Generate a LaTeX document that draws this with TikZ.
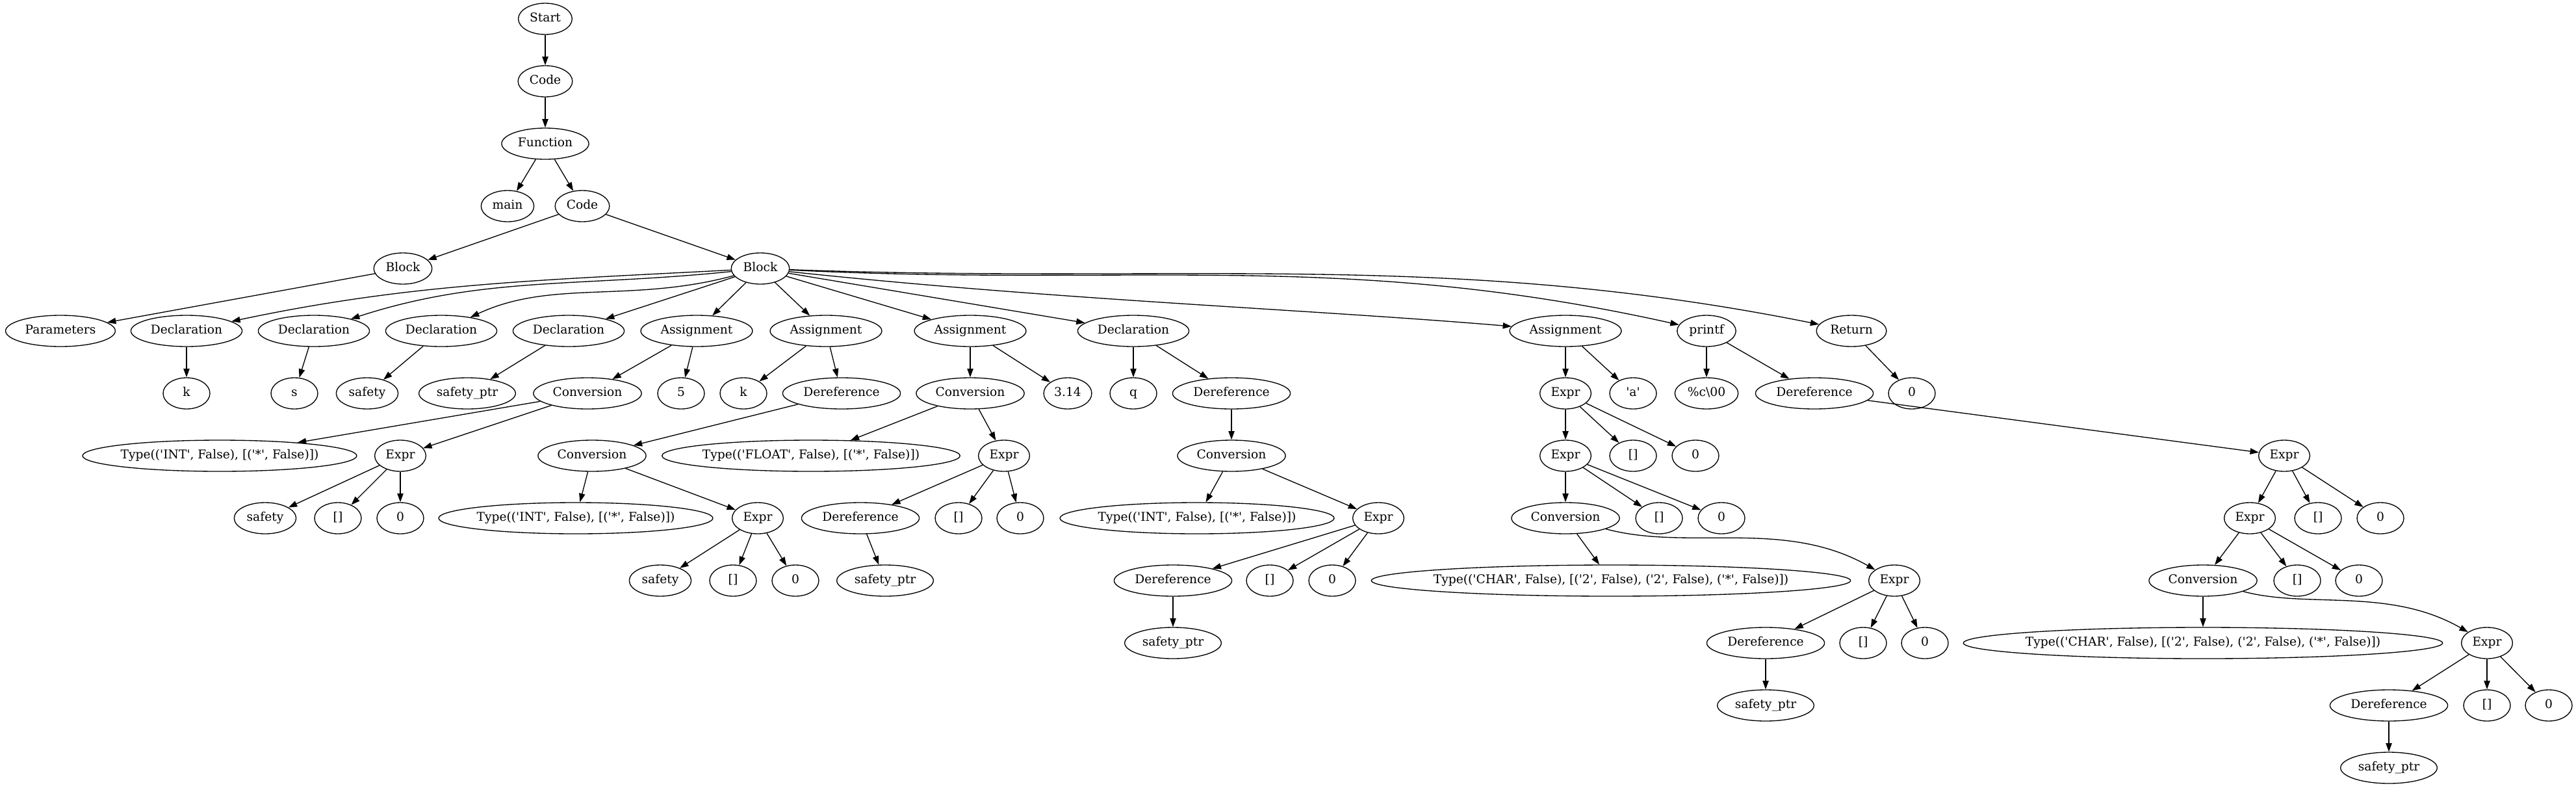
\documentclass[tikz,border=0pt]{standalone}
\usepackage{fontspec}
\setmainfont{DejaVu Serif}[Ligatures=TeXOff]
\usetikzlibrary{arrows.meta,shapes.geometric}
\tikzset{
  ast/.style={draw,ellipse,line width=1pt,minimum width=54pt,minimum height=36pt,inner xsep=4pt,inner ysep=2pt,font=\fontsize{14}{16}\selectfont,text height=10pt,text depth=3pt},
  typebox/.style={inner xsep=-200pt,minimum width=#1},
  link/.style={line width=1pt,-{Triangle[length=10pt,width=7pt]}}
}

\begin{document}
\begin{tikzpicture}[x=0.75pt,y=72pt]
\useasboundingbox (0,0.3021) rectangle (3964,-12.3125);
% rank 0-4
\node[ast] (start) at (839,0) {Start};
\node[ast] (code) at (839,-1) {Code};
\node[ast] (func) at (839,-2) {Function};
\node[ast] (fname) at (781,-3) {main};
\node[ast] (body) at (896,-3) {Code};
\node[ast] (parblk) at (620,-4) {Block};
\node[ast] (blk) at (1170,-4) {Block};
% rank 5
\node[ast] (params) at (93,-5) {Parameters};
\node[ast] (dk) at (287,-5) {Declaration};
\node[ast] (ds) at (483,-5) {Declaration};
\node[ast] (dsafe) at (679,-5) {Declaration};
\node[ast] (dptr) at (875,-5) {Declaration};
\node[ast] (asA) at (1072,-5) {Assignment};
\node[ast] (asB) at (1271,-5) {Assignment};
\node[ast] (asC) at (1493,-5) {Assignment};
\node[ast] (dq) at (1744,-5) {Declaration};
\node[ast] (asD) at (2409,-5) {Assignment};
\node[ast] (pf) at (2626,-5) {printf};
\node[ast] (ret) at (2849,-5) {Return};
% rank 6
\node[ast] (k) at (287,-6) {k};
\node[ast] (s) at (453,-6) {s};
\node[ast] (safe) at (565,-6) {safety};
\node[ast] (ptr) at (719,-6) {safety\_ptr};
\node[ast] (cvA) at (904,-6) {Conversion};
\node[ast] (five) at (1048,-6) {5};
\node[ast] (kB) at (1144,-6) {k};
\node[ast] (drB) at (1295,-6) {Dereference};
\node[ast] (cvC) at (1493,-6) {Conversion};
\node[ast] (flt) at (1643,-6) {3.14};
\node[ast] (q) at (1744,-6) {q};
\node[ast] (drQ) at (1895,-6) {Dereference};
\node[ast] (exD) at (2409,-6) {Expr};
\node[ast] (chr) at (2513,-6) {'a'};
\node[ast] (fmt) at (2626,-6) {\%c\textbackslash 00};
\node[ast] (drP) at (2792,-6) {Dereference};
\node[ast] (retv) at (2942,-6) {0};
% rank 7
\node[ast,typebox=316.5pt] (tyA) at (338,-7) {Type(('INT', False), [('*', False)])};
\node[ast] (exA) at (616,-7) {Expr};
\node[ast] (cvB) at (911,-7) {Conversion};
\node[ast,typebox=344pt] (tyC) at (1248,-7) {Type(('FLOAT', False), [('*', False)])};
\node[ast] (exC) at (1545,-7) {Expr};
\node[ast] (cvQ) at (1895,-7) {Conversion};
\node[ast] (exDa) at (2409,-7) {Expr};
\node[ast] (brD) at (2513,-7) {[]};
\node[ast] (zD) at (2609,-7) {0};
\node[ast] (exP) at (3515,-7) {Expr};
% rank 8
\node[ast] (sfA) at (408,-8) {safety};
\node[ast] (brA) at (520,-8) {[]};
\node[ast] (zA) at (616,-8) {0};
\node[ast,typebox=316.5pt] (tyB) at (886,-8) {Type(('INT', False), [('*', False)])};
\node[ast] (exB) at (1166,-8) {Expr};
\node[ast] (drC) at (1324,-8) {Dereference};
\node[ast] (brC) at (1475,-8) {[]};
\node[ast] (zC) at (1570,-8) {0};
\node[ast,typebox=316.5pt] (tyQ) at (1842,-8) {Type(('INT', False), [('*', False)])};
\node[ast] (exQ) at (2121,-8) {Expr};
\node[ast] (cvD) at (2409,-8) {Conversion};
\node[ast] (brDa) at (2553,-8) {[]};
\node[ast] (zDa) at (2649,-8) {0};
\node[ast] (exPa) at (3462,-8) {Expr};
\node[ast] (brP) at (3567,-8) {[]};
\node[ast] (zP) at (3663,-8) {0};
% rank 9
\node[ast] (sfB) at (1016,-9) {safety};
\node[ast] (brB) at (1128,-9) {[]};
\node[ast] (zB) at (1224,-9) {0};
\node[ast] (ptrC) at (1362,-9) {safety\_ptr};
\node[ast] (drQa) at (1805,-9) {Dereference};
\node[ast] (brQ) at (1954,-9) {[]};
\node[ast] (zQ) at (2050,-9) {0};
\node[ast,typebox=553pt] (tyD) at (2479,-9) {Type(('CHAR', False), [('2', False), ('2', False), ('*', False)])};
\node[ast] (exDb) at (2915,-9) {Expr};
\node[ast] (cvP) at (3390,-9) {Conversion};
\node[ast] (brPa) at (3535,-9) {[]};
\node[ast] (zPa) at (3630,-9) {0};
% rank 10-12
\node[ast] (ptrQ) at (1805,-10) {safety\_ptr};
\node[ast] (drD) at (2717,-10) {Dereference};
\node[ast] (brDb) at (2867,-10) {[]};
\node[ast] (zDb) at (2962,-10) {0};
\node[ast,typebox=553pt] (tyP) at (3390,-10) {Type(('CHAR', False), [('2', False), ('2', False), ('*', False)])};
\node[ast] (exPb) at (3827,-10) {Expr};
\node[ast] (ptrD) at (2717,-11) {safety\_ptr};
\node[ast] (drPa) at (3676,-11) {Dereference};
\node[ast] (brPb) at (3827,-11) {[]};
\node[ast] (zPb) at (3922,-11) {0};
\node[ast] (ptrP) at (3676,-12) {safety\_ptr};

% edges
\draw[link] (start) -- (code);
\draw[link] (code) -- (func);
\draw[link] (func) -- (fname);
\draw[link] (func) -- (body);
\draw[link] (body) -- (parblk);
\draw[link] (body) -- (blk);
\draw[link] (parblk) -- (params);
\draw[link] (blk) .. controls +(-350,-0.19) and +(340,0.75) .. (dk);
\draw[link] (blk) .. controls +(-280,-0.3) and +(260,0.88) .. (ds);
\draw[link] (blk) .. controls +(-200,-0.56) and +(170,0.83) .. (dsafe);
\draw[link] (blk) -- (dptr);
\draw[link] (blk) -- (asA);
\draw[link] (blk) -- (asB);
\draw[link] (blk) -- (asC);
\draw[link] (blk) -- (dq);
\draw[link] (blk) .. controls +(450,-0.5) and +(-400,0.35) .. (asD);
\draw[link] (blk) .. controls +(580,-0.3) and +(-560,1.3) .. (pf);
\draw[link] (blk) .. controls +(650,-0.25) and +(-620,1.3) .. (ret);
\draw[link] (dk) -- (k);
\draw[link] (ds) -- (s);
\draw[link] (dsafe) -- (safe);
\draw[link] (dptr) -- (ptr);
\draw[link] (asA) -- (cvA);
\draw[link] (asA) -- (five);
\draw[link] (cvA) -- (tyA);
\draw[link] (cvA) -- (exA);
\draw[link] (exA) -- (sfA);
\draw[link] (exA) -- (brA);
\draw[link] (exA) -- (zA);
\draw[link] (asB) -- (kB);
\draw[link] (asB) -- (drB);
\draw[link] (drB) -- (cvB);
\draw[link] (cvB) -- (tyB);
\draw[link] (cvB) -- (exB);
\draw[link] (exB) -- (sfB);
\draw[link] (exB) -- (brB);
\draw[link] (exB) -- (zB);
\draw[link] (asC) -- (cvC);
\draw[link] (asC) -- (flt);
\draw[link] (cvC) -- (tyC);
\draw[link] (cvC) -- (exC);
\draw[link] (exC) -- (drC);
\draw[link] (exC) -- (brC);
\draw[link] (exC) -- (zC);
\draw[link] (drC) -- (ptrC);
\draw[link] (dq) -- (q);
\draw[link] (dq) -- (drQ);
\draw[link] (drQ) -- (cvQ);
\draw[link] (cvQ) -- (tyQ);
\draw[link] (cvQ) -- (exQ);
\draw[link] (exQ) -- (drQa);
\draw[link] (exQ) -- (brQ);
\draw[link] (exQ) -- (zQ);
\draw[link] (drQa) -- (ptrQ);
\draw[link] (asD) -- (exD);
\draw[link] (asD) -- (chr);
\draw[link] (exD) -- (exDa);
\draw[link] (exD) -- (brD);
\draw[link] (exD) -- (zD);
\draw[link] (exDa) -- (cvD);
\draw[link] (exDa) -- (brDa);
\draw[link] (exDa) -- (zDa);
\draw[link] (cvD) -- (tyD);
\draw[link] (cvD) .. controls +(190,-0.53) and +(-170,1.0) .. (exDb);
\draw[link] (exDb) -- (drD);
\draw[link] (exDb) -- (brDb);
\draw[link] (exDb) -- (zDb);
\draw[link] (drD) -- (ptrD);
\draw[link] (pf) -- (fmt);
\draw[link] (pf) -- (drP);
\draw[link] (drP) -- (exP);
\draw[link] (exP) -- (exPa);
\draw[link] (exP) -- (brP);
\draw[link] (exP) -- (zP);
\draw[link] (exPa) -- (cvP);
\draw[link] (exPa) -- (brPa);
\draw[link] (exPa) -- (zPa);
\draw[link] (cvP) -- (tyP);
\draw[link] (cvP) .. controls +(160,-0.45) and +(-150,0.9) .. (exPb);
\draw[link] (exPb) -- (drPa);
\draw[link] (exPb) -- (brPb);
\draw[link] (exPb) -- (zPb);
\draw[link] (drPa) -- (ptrP);
\draw[link] (ret) -- (retv);
\end{tikzpicture}
\end{document}
